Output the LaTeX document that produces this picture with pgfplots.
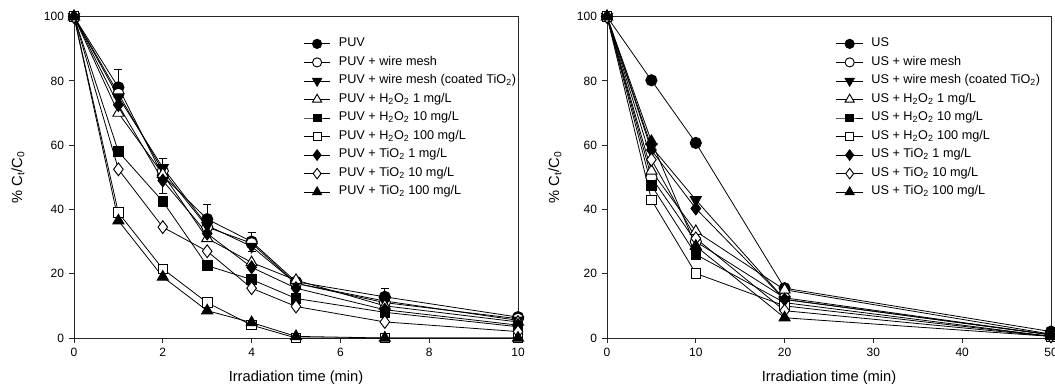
\documentclass[border=0pt]{standalone}
\usepackage{fontspec}
\setmainfont{Liberation Sans}
\usepackage{pgfplots}
\usepackage{pgfplotstable}
\pgfplotsset{compat=1.18}

\pgfplotstableread{
x   A     B     C     D     E     F     G     H     I     err
0   100   100   100   100   100   100   100   100   100   0
1   78    76    75    70    58    39    72.5  52.5  36.5  5.5
2   50.5  52    53    51    42.5  21.5  49    34.5  19    5.5
3   37    34.5  35    31    22.5  11    32.5  27    8.5   4.5
4   30    29.5  28.5  23.5  18.2  4     22    15.5  4.8   3
5   17.5  17    17    18    12.3  0     15.5  9.8   0.5   1
7   12.8  11    11.5  10    8     0     8.8   5     0     2.7
10  6.5   6     5.5   5     3.5   0     4     2     0     1
}\leftdata

\pgfplotstableread{
x   A     B     C     D     E     F     G     H     I
0   100   100   100   100   100   100   100   100   100
5   80.2  50    59.5  52    47.5  43    58.5  55.5  61.2
10  60.7  30    43    33.2  26    20.1  40.3  31    28.6
20  15.5  12.5  12    15    11    10    12    8.5   6.3
50  2     1     1     1.2   0.5   0.5   1     0.5   0.5
}\rightdata

\pgfplotsset{
  sA/.style={mark=*, mark size=4.2pt, mark options={solid, line width=0.7pt, fill=black}},
  sB/.style={mark=*, mark size=4.2pt, mark options={solid, line width=0.7pt, fill=white}},
  sC/.style={mark=triangle*, mark size=4.8pt, mark options={solid, line width=0.7pt, fill=black, rotate=180}},
  sD/.style={mark=triangle*, mark size=4.8pt, mark options={solid, line width=0.7pt, fill=white}},
  sE/.style={mark=square*, mark size=3.6pt, mark options={solid, line width=0.7pt, fill=black}},
  sF/.style={mark=square*, mark size=3.6pt, mark options={solid, line width=0.7pt, fill=white}},
  sG/.style={mark=diamond*, mark size=4.8pt, mark options={solid, line width=0.7pt, fill=black}},
  sH/.style={mark=diamond*, mark size=4.8pt, mark options={solid, line width=0.7pt, fill=white}},
  sI/.style={mark=triangle*, mark size=4.8pt, mark options={solid, line width=0.7pt, fill=black}},
  panel/.style={
    scale only axis, width=333pt, height=241pt,
    ymin=0, ymax=100, ytick={0,20,...,100},
    axis line style={line width=0.7pt, black!85},
    tick style={line width=0.7pt, black!85},
    tick align=outside, major tick length=4pt, tick pos=left,
    clip=false,
    tick label style={font=\fontsize{9}{10}\selectfont},
    /pgf/number format/assume math mode=true,
    label style={font=\fontsize{11}{13}\selectfont},
    xlabel={Irradiation time (min)},
    ylabel={\% C\textsubscript{t}/C\textsubscript{0}},
    xlabel style={at={(axis description cs:0.5,-0.124)}, anchor=center},
    every axis plot/.append style={black, line width=0.6pt},
    legend cell align=left,
    legend style={draw=none, fill=none, anchor=north west, inner sep=0pt,
      font=\fontsize{9.5}{10.5}\selectfont,
      nodes={inner sep=1pt, text height=8pt, text depth=3.9pt}},
    legend image code/.code={\draw[mark repeat=2,mark phase=2] plot coordinates {(0pt,0pt) (10pt,0pt) (20pt,0pt)}; \path (25pt,0pt);},
    legend image post style={every mark/.append style={scale=0.82}},
  }
}

\begin{document}
\begin{tikzpicture}
\path[use as bounding box] (0,0) rectangle (791.25pt,294pt);

\begin{axis}[panel, at={(55.5pt,40.5pt)}, anchor=south west,
  xmin=0, xmax=10, xtick={0,2,...,10},
  ylabel style={at={(axis description cs:-0.126,0.5)}, anchor=center},
  legend style={at={(axis description cs:0.516,0.945)}}]
\addplot[sA, error bars/.cd, y dir=both, y explicit,
  error bar style={line width=0.6pt, black},
  error mark options={rotate=90, mark size=3pt, line width=0.6pt, black}]
  table[x=x, y=A, y error=err] {\leftdata};
\addlegendentry{PUV}
\addplot[sB] table[x=x, y=B] {\leftdata};
\addlegendentry{PUV + wire mesh}
\addplot[sC] table[x=x, y=C] {\leftdata};
\addlegendentry{PUV + wire mesh (coated TiO\textsubscript{2})}
\addplot[sD] table[x=x, y=D] {\leftdata};
\addlegendentry{PUV + H\textsubscript{2}O\textsubscript{2} 1 mg/L}
\addplot[sE] table[x=x, y=E] {\leftdata};
\addlegendentry{PUV + H\textsubscript{2}O\textsubscript{2} 10 mg/L}
\addplot[sF] table[x=x, y=F] {\leftdata};
\addlegendentry{PUV + H\textsubscript{2}O\textsubscript{2} 100 mg/L}
\addplot[sG] table[x=x, y=G] {\leftdata};
\addlegendentry{PUV + TiO\textsubscript{2} 1 mg/L}
\addplot[sH] table[x=x, y=H] {\leftdata};
\addlegendentry{PUV + TiO\textsubscript{2} 10 mg/L}
\addplot[sI] table[x=x, y=I] {\leftdata};
\addlegendentry{PUV + TiO\textsubscript{2} 100 mg/L}
\end{axis}

\begin{axis}[panel, at={(455.25pt,40.5pt)}, anchor=south west,
  xmin=0, xmax=50, xtick={0,10,...,50},
  ylabel style={at={(axis description cs:-0.117,0.5)}, anchor=center},
  legend style={at={(axis description cs:0.515,0.945)}}]
\addplot[sA] table[x=x, y=A] {\rightdata};
\addlegendentry{US}
\addplot[sB] table[x=x, y=B] {\rightdata};
\addlegendentry{US + wire mesh}
\addplot[sC] table[x=x, y=C] {\rightdata};
\addlegendentry{US + wire mesh (coated TiO\textsubscript{2})}
\addplot[sD] table[x=x, y=D] {\rightdata};
\addlegendentry{US + H\textsubscript{2}O\textsubscript{2} 1 mg/L}
\addplot[sE] table[x=x, y=E] {\rightdata};
\addlegendentry{US + H\textsubscript{2}O\textsubscript{2} 10 mg/L}
\addplot[sF] table[x=x, y=F] {\rightdata};
\addlegendentry{US + H\textsubscript{2}O\textsubscript{2} 100 mg/L}
\addplot[sG] table[x=x, y=G] {\rightdata};
\addlegendentry{US + TiO\textsubscript{2} 1 mg/L}
\addplot[sH] table[x=x, y=H] {\rightdata};
\addlegendentry{US + TiO\textsubscript{2} 10 mg/L}
\addplot[sI] table[x=x, y=I] {\rightdata};
\addlegendentry{US + TiO\textsubscript{2} 100 mg/L}
\end{axis}
\end{tikzpicture}
\end{document}
